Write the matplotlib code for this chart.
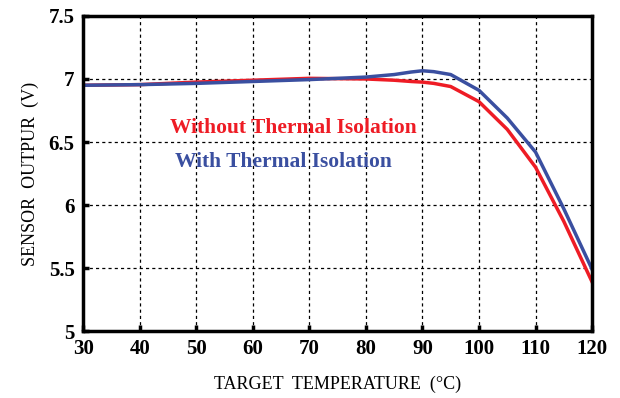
import matplotlib.pyplot as plt

temp = [30, 40, 50, 60, 70, 80, 85, 88, 90, 92, 95, 100, 105, 110, 115, 120]
with_iso = [6.95, 6.955, 6.965, 6.98, 6.995, 7.015, 7.035, 7.055, 7.065, 7.058, 7.035, 6.91, 6.69, 6.42, 5.97, 5.49]
without_iso = [6.95, 6.955, 6.975, 6.99, 7.005, 7.0, 6.99, 6.98, 6.975, 6.965, 6.94, 6.82, 6.6, 6.3, 5.87, 5.39]

plt.rcParams['font.family'] = ['Liberation Serif', 'DejaVu Serif']

fig = plt.figure(figsize=(6.2, 3.98), dpi=100)
ax = fig.add_axes([0.134, 0.168, 0.821, 0.792])

ax.plot(temp, without_iso, color='#ee1c25', lw=2.5)
ax.plot(temp, with_iso, color='#3a4fa0', lw=2.5)

ax.set_xlim(30, 120)
ax.set_ylim(5, 7.5)
ax.set_xticks(range(30, 121, 10))
ax.set_yticks([5, 5.5, 6, 6.5, 7, 7.5])
ax.set_yticklabels(['5', '5.5', '6', '6.5', '7', '7.5'])
ax.grid(True, color='black', ls=(0, (2.5, 2.5)), lw=0.9)
for s in ax.spines.values():
    s.set_linewidth(2.5)
ax.tick_params(direction='in', width=2.5, length=4, labelsize=15, pad=6)
for lab in ax.get_xticklabels() + ax.get_yticklabels():
    lab.set_fontweight('bold')

ax.text(0.171, 0.645, 'Without Thermal Isolation', transform=ax.transAxes,
        color='#ee1c25', fontsize=15.5, fontweight='bold', va='center')
ax.text(0.18, 0.537, 'With Thermal Isolation', transform=ax.transAxes,
        color='#3a4fa0', fontsize=15.5, fontweight='bold', va='center')

ax.set_xlabel('TARGET  TEMPERATURE  (\u00b0C)', fontsize=13, labelpad=12)
ax.set_ylabel('SENSOR  OUTPUR  (V)', fontsize=13, labelpad=7)

fig.savefig('out.png', dpi=100)
